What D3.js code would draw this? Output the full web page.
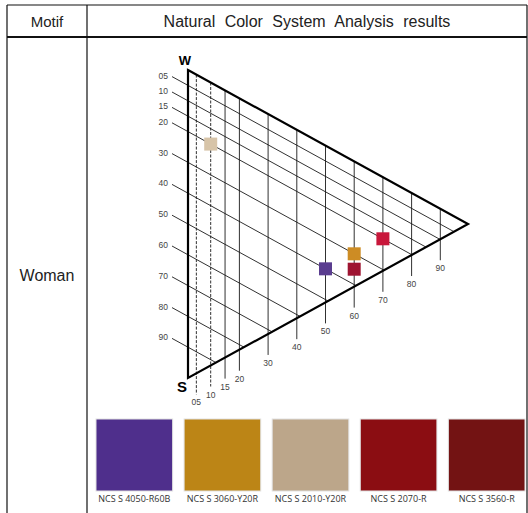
<!DOCTYPE html>
<html><head><meta charset="utf-8">
<script src="https://cdn.jsdelivr.net/npm/d3@7"></script>
<style>body{margin:0;background:#fff}svg{display:block}</style>
</head><body>
<script>
// ---- data ----
const headerLabels = ["Motif", "Natural Color System Analysis results"];
const rowLabel = "Woman";
const blacknessTicks = [5, 10, 15, 20, 30, 40, 50, 60, 70, 80, 90];
const chromaTicks = [5, 10, 15, 20, 30, 40, 50, 60, 70, 80, 90];
const colorNames = ["NCS S 4050-R60B", "NCS S 3060-Y20R", "NCS S 2010-Y20R", "NCS S 2070-R", "NCS S 3560-R"];
const colorBlackness = [40, 30, 20, 20, 35];
const colorChroma = [50, 60, 10, 70, 60];
const markerFills = ["#5a3d8f", "#cd8c24", "#d7c4a8", "#c8173b", "#9e1431"];
const swatchFills = ["#4f2f8c", "#bc8516", "#bca68a", "#8b0d12", "#731313"];

const W = 528, H = 513;
const svg = d3.select("body").append("svg").attr("width", W).attr("height", H);
const font = "'Liberation Sans', Arial, sans-serif";

// ---- table ----
const tL = 7, tR = 527, tT = 5, tH = 37, tDiv = 87;
const tbl = svg.append("g").attr("stroke", "#111").attr("fill", "none");
tbl.append("line").attr("x1", tL).attr("x2", tR).attr("y1", tT).attr("y2", tT).attr("stroke-width", 1.2);
tbl.append("line").attr("x1", tL).attr("x2", tR).attr("y1", tH).attr("y2", tH).attr("stroke-width", 2);
tbl.append("line").attr("x1", tL).attr("x2", tL).attr("y1", tT).attr("y2", H).attr("stroke-width", 1.2);
tbl.append("line").attr("x1", tDiv).attr("x2", tDiv).attr("y1", tT).attr("y2", H).attr("stroke-width", 1.2);
tbl.append("line").attr("x1", tR).attr("x2", tR).attr("y1", tT).attr("y2", H).attr("stroke-width", 1.2);

svg.append("text").attr("x", (tL + tDiv) / 2).attr("y", 21).attr("text-anchor", "middle")
  .attr("dominant-baseline", "central").attr("font-family", font).attr("font-size", 15).attr("fill", "#222")
  .text(headerLabels[0]);
svg.append("text").attr("x", 307).attr("y", 21).attr("text-anchor", "middle")
  .attr("dominant-baseline", "central").attr("font-family", font).attr("font-size", 16).attr("fill", "#222")
  .attr("word-spacing", 5).text(headerLabels[1]);
svg.append("text").attr("x", (tL + tDiv) / 2).attr("y", 275).attr("text-anchor", "middle")
  .attr("dominant-baseline", "central").attr("font-family", font).attr("font-size", 16).attr("fill", "#222")
  .text(rowLabel);

// ---- NCS triangle ----
const x0 = 188;
const sScale = d3.scaleLinear().domain([0, 100]).range([70, 378]);   // blackness along W-S edge
const cScale = d3.scaleLinear().domain([0, 100]).range([182, 469]);  // chromaticness horizontally
const Wp = [x0, sScale(0)], Sp = [x0, sScale(100)], Cp = [468, (sScale(0) + sScale(100)) / 2];
const m1 = (Cp[1] - Wp[1]) / (Cp[0] - Wp[0]);   // W-C slope
const m2 = (Cp[1] - Sp[1]) / (Cp[0] - Sp[0]);   // S-C slope
const topY = x => Wp[1] + (x - x0) * m1;
const botY = x => Sp[1] + (x - x0) * m2;
const posOf = (s, c) => { const x = cScale(c); return [x, sScale(s) + (x - x0) * m1]; };

const grid = svg.append("g").attr("stroke", "#1a1a1a").attr("stroke-width", 0.9).attr("fill", "none");
// blackness lines (parallel to W-C edge)
blacknessTicks.forEach(s => {
  const xs = 172, ys = sScale(s) + (xs - x0) * m1;
  const xe = x0 + (sScale(s) - Sp[1]) / (m2 - m1);
  const ye = sScale(s) + (xe - x0) * m1;
  grid.append("line").attr("x1", xs).attr("y1", ys).attr("x2", xe).attr("y2", ye);
  svg.append("text").attr("x", 168).attr("y", ys - 1).attr("text-anchor", "end")
    .attr("dominant-baseline", "central").attr("font-family", font).attr("font-size", 8.5)
    .attr("fill", "#444").text(d3.format("02d")(s));
});
// chromaticness lines (vertical)
chromaTicks.forEach(c => {
  const x = cScale(c);
  const ly = botY(x) + 29;
  grid.append("line").attr("x1", x).attr("y1", topY(x)).attr("x2", x).attr("y2", ly - 8)
    .attr("stroke-dasharray", c <= 10 ? "3,1.5" : null);
  svg.append("text").attr("x", x).attr("y", ly).attr("text-anchor", "middle")
    .attr("dominant-baseline", "central").attr("font-family", font).attr("font-size", 8.5)
    .attr("fill", "#444").text(d3.format("02d")(c));
});
// triangle outline
svg.append("path").attr("d", d3.line()([Wp, Cp, Sp, Wp]) + "Z")
  .attr("fill", "none").attr("stroke", "#000").attr("stroke-width", 2.2).attr("stroke-linejoin", "miter");
svg.append("text").attr("x", Wp[0] - 3).attr("y", Wp[1] - 10).attr("text-anchor", "middle")
  .attr("dominant-baseline", "central").attr("font-family", font).attr("font-weight", "bold")
  .attr("font-size", 13).attr("fill", "#000").text("W");
svg.append("text").attr("x", Sp[0] - 6).attr("y", Sp[1] + 8).attr("text-anchor", "middle")
  .attr("dominant-baseline", "central").attr("font-family", font).attr("font-weight", "bold")
  .attr("font-size", 15).attr("fill", "#000").text("S");

// markers
const ms = 13;
colorNames.forEach((n, i) => {
  const [x, y] = posOf(colorBlackness[i], colorChroma[i]);
  svg.append("rect").attr("x", x - ms / 2).attr("y", y - ms / 2).attr("width", ms).attr("height", ms)
    .attr("fill", markerFills[i]);
});

// ---- swatches ----
const order = d3.range(colorNames.length);
const band = d3.scaleBand().domain(order).range([96, 525]).paddingInner(0.13).paddingOuter(0.0);
order.forEach(i => {
  const x = band(i), bw = band.bandwidth();
  svg.append("rect").attr("x", x).attr("y", 419).attr("width", bw).attr("height", 72)
    .attr("fill", swatchFills[i]).attr("stroke", "#e2e2e2").attr("stroke-width", 1);
  svg.append("text").attr("x", x + bw / 2).attr("y", 498).attr("text-anchor", "middle")
    .attr("dominant-baseline", "central").attr("font-family", "'Open Sans', sans-serif")
    .attr("font-size", 9).attr("fill", "#333").text(colorNames[i]);
});
</script>
</body></html>
